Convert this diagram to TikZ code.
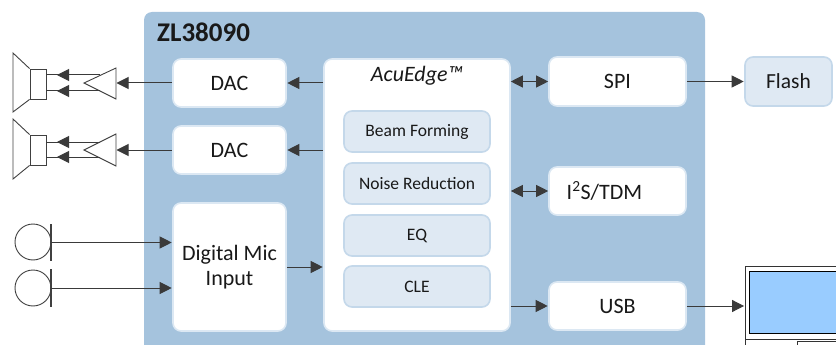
\documentclass[tikz,border=0pt]{standalone}
\usepackage{fontspec}
\setmainfont{Carlito}
\usetikzlibrary{arrows.meta}
\definecolor{panel}{HTML}{A5C3DD}
\definecolor{soft}{HTML}{DFE9F3}
\definecolor{softedge}{HTML}{C4D8EA}
\definecolor{whiteedge}{HTML}{DCE8F3}
\definecolor{wire}{HTML}{3A3A3A}
\definecolor{screen}{HTML}{99CCFF}
\tikzset{
  x=1pt,y=-1pt,
  whitebox/.style={draw=whiteedge,line width=1.6pt,fill=white,rounded corners=8pt,inner sep=0pt,align=center,font=\fontsize{22}{25}\selectfont,text=black!90},
  softbox/.style={draw=softedge,line width=1.6pt,fill=soft,rounded corners=8pt,inner sep=0pt,align=center,font=\fontsize{17.5}{21}\selectfont,text=black!90},
  wirearrow/.style={draw=wire,line width=1pt,-{Triangle[length=12pt,width=12pt,fill=wire]},shorten >=0.5pt},
  biarrow/.style={draw=wire,line width=1pt,{Triangle[length=12pt,width=12pt,fill=wire]}-{Triangle[length=12pt,width=12pt,fill=wire]}},
  plainwire/.style={draw=wire,line width=1pt},
  symbol/.style={draw=black!75,line width=0.9pt},
}
\newcommand{\placebox}[7]{\node[#1,minimum width=#5-#3,minimum height=#6-#4] (#2) at ({(#3+#5)/2},{(#4+#6)/2}) {#7};}
\begin{document}
\begin{tikzpicture}
\useasboundingbox (0,0) rectangle (836,345);
\clip (0,0) rectangle (836,345);
\fill[panel,rounded corners=8pt] (144,12) rectangle (705,365);
\node[anchor=west,inner sep=0pt,font=\fontsize{27}{30}\selectfont\bfseries,text=black!90] (title) at (157,32) {ZL38090};

\placebox{whitebox}{dacA}{173}{59}{286}{107}{DAC}
\placebox{whitebox}{dacB}{173}{126}{286}{174}{DAC}
\placebox{whitebox}{mic}{173}{203}{286}{331}{Digital Mic\\Input}
\placebox{whitebox}{acu}{324}{59}{510}{331}{}
\node[anchor=center,inner sep=0pt,font=\fontsize{22}{25}\selectfont\itshape,text=black!90] (acutitle) at (417,76) {AcuEdge™};
\placebox{softbox}{beam}{344}{111}{490}{152}{Beam Forming}
\placebox{softbox}{noise}{344}{163}{490}{204}{Noise Reduction}
\placebox{softbox}{eq}{344}{215}{490}{256}{EQ}
\placebox{softbox}{cle}{344}{266}{490}{307}{CLE}
\placebox{whitebox}{spi}{549}{57}{686}{106}{SPI}
\placebox{whitebox}{i2s}{549}{167}{686}{215}{\hspace*{-26pt}I\textsuperscript{2}S/TDM}
\placebox{whitebox}{usb}{549}{282}{686}{330}{USB}
\placebox{softbox}{flash}{745}{57}{832}{106}{\fontsize{21.5}{25}\selectfont Flash}

% speakers and amplifiers
\node[symbol,draw,minimum width=16,minimum height=30,inner sep=0pt] (spkA) at (38,84) {};
\draw[symbol] (spkA.north west) -- (13,53) -- (13,112) -- (spkA.south west);
\coordinate (ampA) at (116,83);
\draw[symbol] (116,68) -- (84,83) -- (116,99) -- cycle;
\node[symbol,draw,minimum width=16,minimum height=30,inner sep=0pt] (spkB) at (38,150) {};
\draw[symbol] (spkB.north west) -- (13,119) -- (13,179) -- (spkB.south west);
\coordinate (ampB) at (116,150);
\draw[symbol] (116,134) -- (84,150) -- (116,166) -- cycle;

\coordinate (ampAt) at (100,75); \coordinate (ampAb) at (100,91);
\coordinate (ampBt) at (100,142); \coordinate (ampBb) at (100,157);
\coordinate (tipAt) at (57,75); \coordinate (tipAb) at (57,91);
\coordinate (tipBt) at (57,142); \coordinate (tipBb) at (57,157);
\draw[plainwire] (ampAt) -- (spkA.east |- ampAt);
\draw[plainwire] (ampAb) -- (spkA.east |- ampAb);
\draw[plainwire] (ampBt) -- (spkB.east |- ampBt);
\draw[plainwire] (ampBb) -- (spkB.east |- ampBb);
\draw[wirearrow,shorten >=0pt] (ampAt) -- (tipAt);
\draw[wirearrow,shorten >=0pt] (ampAb) -- (tipAb);
\draw[wirearrow,shorten >=0pt] (ampBt) -- (tipBt);
\draw[wirearrow,shorten >=0pt] (ampBb) -- (tipBb);
\draw[wirearrow] (dacA) -- (ampA);
\draw[wirearrow] (dacB) -- (ampB);

% microphones
\node[symbol,draw,circle,minimum size=36,inner sep=0pt] (micA) at (33,242) {};
\node[symbol,draw,circle,minimum size=36,inner sep=0pt] (micB) at (33,288) {};
\draw[draw=black!75,line width=1.6pt] (51,224) -- coordinate (barA) (51,261);
\draw[draw=black!75,line width=1.6pt] (51,269) -- coordinate (barB) (51,307);
\draw[wirearrow] (barA) -- (mic.west |- barA);
\draw[wirearrow] (barB) -- (mic.west |- barB);

% block connectors
\draw[wirearrow] (acu.west |- dacA) -- (dacA);
\draw[wirearrow] (acu.west |- dacB) -- (dacB);
\draw[wirearrow] (mic) -- (acu.west |- mic);
\draw[biarrow] (acu.east |- spi) -- (spi);
\draw[biarrow] (acu.east |- i2s) -- (i2s);
\draw[wirearrow] (acu.east |- usb) -- (usb);
\draw[wirearrow] (spi) -- (flash);

% laptop
\node[draw=black!80,line width=0.9pt,fill=white,minimum width=100,minimum height=90,inner sep=0pt] (laptop) at (795,311) {};
\node[draw=black,line width=0.9pt,fill=screen,minimum width=100,minimum height=62,inner sep=0pt] (lscreen) at (799,302) {};
\draw[black!80,line width=0.9pt] (745,339) -- (836,339);
\draw[black!80,line width=0.9pt] (797,345) -- (797,341) -- (836,341);
\draw[wirearrow] (usb) -- (laptop.west |- usb);
\end{tikzpicture}
\end{document}
